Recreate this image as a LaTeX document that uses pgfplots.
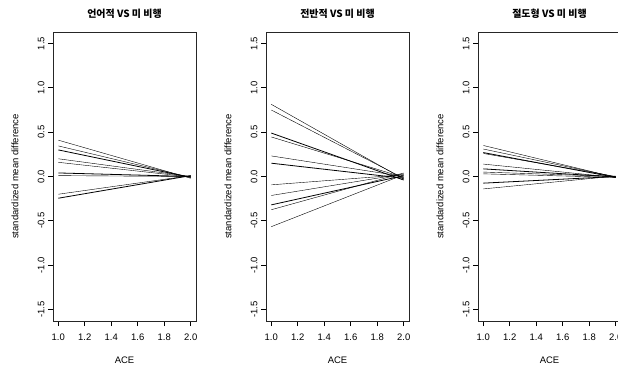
\documentclass[border=0pt]{standalone}
\usepackage{pgfplots}
\pgfplotsset{compat=1.18}
\usepackage{fontspec}
\setmainfont{Liberation Sans}
\newfontfamily\cjk{Noto Sans CJK KR}

\pgfplotsset{
 rpanel/.style={
  scale only axis, width=143bp, height=289bp, anchor=south west,
  xmin=0.96, xmax=2.04, ymin=-1.63, ymax=1.63,
  xtick={1,1.2,1.4,1.6,1.8,2}, ytick={-1.5,-1,-0.5,0,0.5,1,1.5},
  xtick pos=bottom, ytick pos=left, tick align=outside, major tick length=5bp,
  every tick/.style={black, line width=0.7bp},
  axis line style={black!85, line width=0.9bp},
  /pgf/number format/fixed, /pgf/number format/fixed zerofill,
  /pgf/number format/precision=1, /pgf/number format/assume math mode=true,
  ticklabel style={font=\fontsize{9.5}{11}\selectfont, text=black},
  xticklabel style={yshift=-4.5bp},
  yticklabel style={rotate=90, anchor=south},
  xlabel={ACE}, ylabel={standardized mean difference},
  label style={font=\fontsize{9.5}{11}\selectfont, text=black},
  xlabel style={at={(axis description cs:0.5,0)}, anchor=center, yshift=-39bp},
  ylabel style={at={([xshift=-38bp]axis description cs:0,0.5)}, anchor=center},
  title style={at={([yshift=12bp]axis description cs:0.5,1)}, anchor=center, yshift=0pt, font=\cjk\bfseries\fontsize{10}{12}\selectfont},
  cycle list={{black, solid, line width=0.8bp}},
  every axis plot/.append style={no markers},
 }
}

\begin{document}
\begin{tikzpicture}[x=1bp,y=1bp]
\useasboundingbox (0,0) rectangle (618,367);
\clip (0,0) rectangle (618,367);

\begin{axis}[rpanel, at={(53bp,46bp)}, title={언어적 VS 미 비행}]
\addplot coordinates {(1,0.41) (2,-0.02)};
\addplot coordinates {(1,0.345) (2,-0.01)};
\addplot coordinates {(1,0.30) (2,-0.01)};
\addplot coordinates {(1,0.20) (2,0.0)};
\addplot coordinates {(1,0.16) (2,-0.005)};
\addplot coordinates {(1,0.04) (2,0.0)};
\addplot coordinates {(1,0.01) (2,0.0)};
\addplot coordinates {(1,-0.20) (2,0.01)};
\addplot coordinates {(1,-0.245) (2,0.01)};
\end{axis}

\begin{axis}[rpanel, at={(266bp,46bp)}, title={전반적 VS 미 비행}]
\addplot coordinates {(1,0.814) (2,-0.03)};
\addplot coordinates {(1,0.75) (2,-0.02)};
\addplot coordinates {(1,0.49) (2,-0.04)};
\addplot coordinates {(1,0.446) (2,-0.01)};
\addplot coordinates {(1,0.232) (2,0.0)};
\addplot coordinates {(1,0.15) (2,-0.02)};
\addplot coordinates {(1,-0.094) (2,0.02)};
\addplot coordinates {(1,-0.214) (2,0.03)};
\addplot coordinates {(1,-0.32) (2,0.01)};
\addplot coordinates {(1,-0.375) (2,0.04)};
\addplot coordinates {(1,-0.566) (2,0.02)};
\end{axis}

\begin{axis}[rpanel, at={(478bp,46bp)}, title={절도형 VS 미 비행}]
\addplot coordinates {(1,0.35) (2,-0.01)};
\addplot coordinates {(1,0.31) (2,-0.005)};
\addplot coordinates {(1,0.27) (2,-0.01)};
\addplot coordinates {(1,0.26) (2,0.0)};
\addplot coordinates {(1,0.14) (2,-0.01)};
\addplot coordinates {(1,0.086) (2,-0.005)};
\addplot coordinates {(1,0.05) (2,0.0)};
\addplot coordinates {(1,0.03) (2,-0.01)};
\addplot coordinates {(1,-0.075) (2,0.0)};
\addplot coordinates {(1,-0.14) (2,0.005)};
\end{axis}
\end{tikzpicture}
\end{document}
